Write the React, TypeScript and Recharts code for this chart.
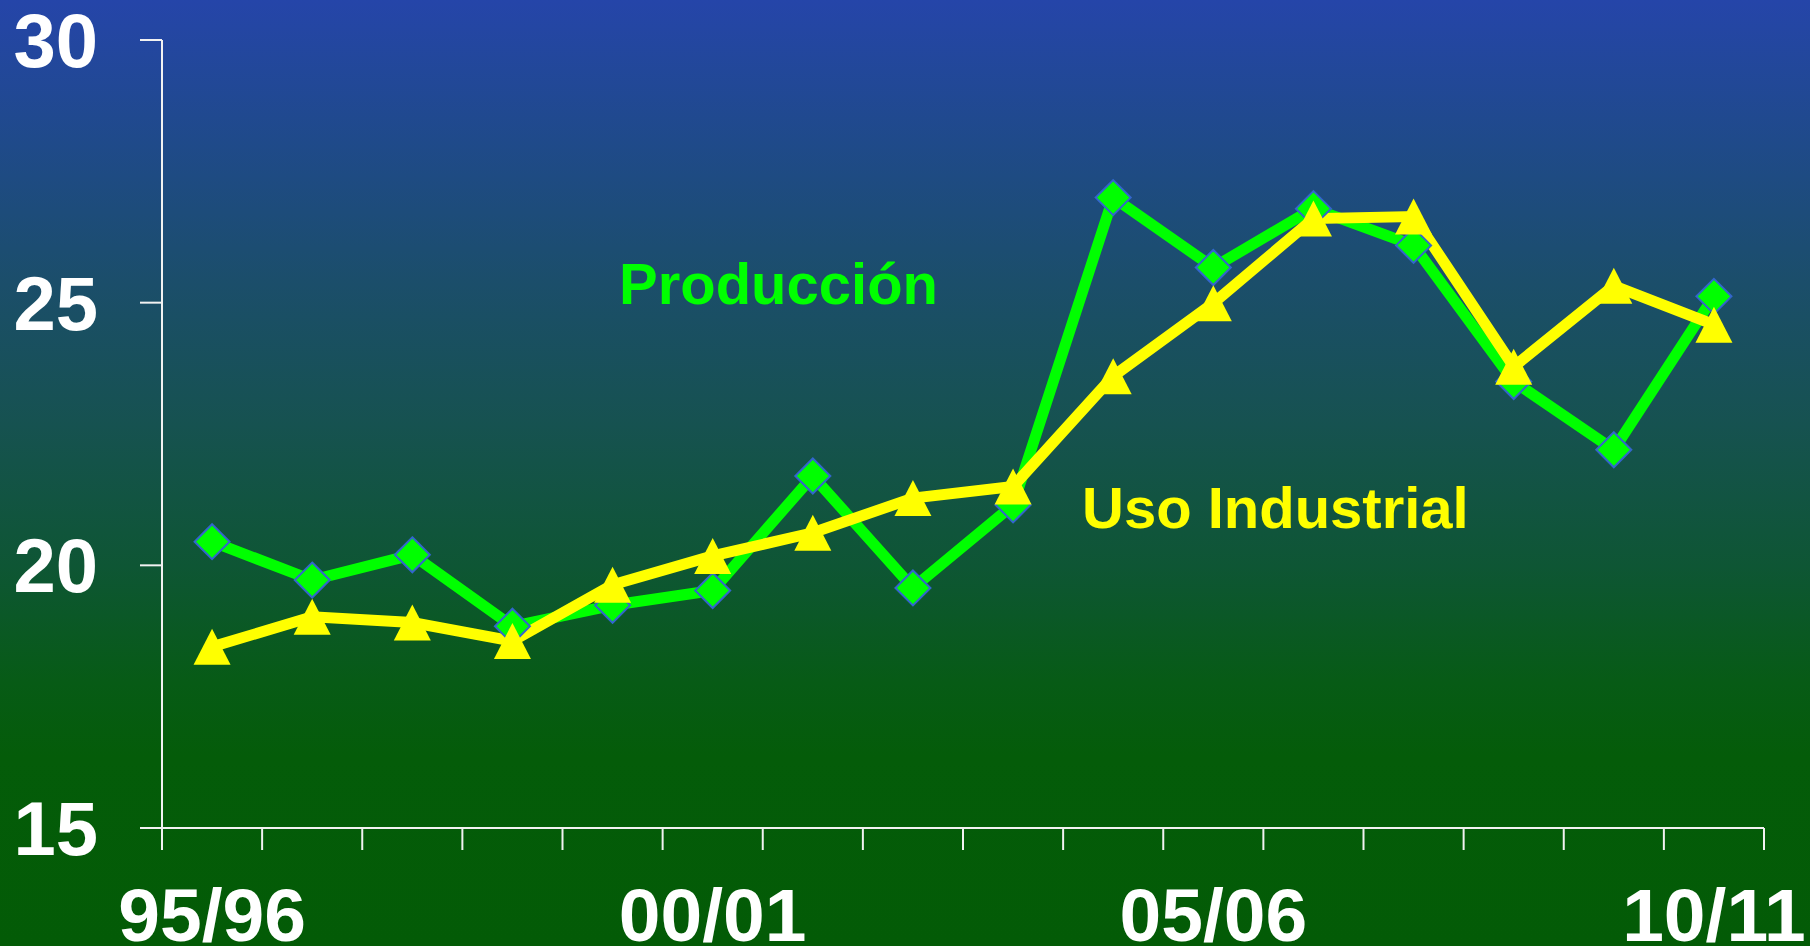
import React from 'react';
import { LineChart, Line, XAxis, YAxis } from 'recharts';

// campañas 95/96 ... 10/11
const seasons = [
  '95/96', '96/97', '97/98', '98/99', '99/00', '00/01', '01/02', '02/03',
  '03/04', '04/05', '05/06', '06/07', '07/08', '08/09', '09/10', '10/11',
];
const produccion = [
  20.45, 19.72, 20.2, 18.84, 19.24, 19.52, 21.7, 19.57,
  21.15, 27.0, 25.67, 26.79, 26.09, 23.5, 22.2, 25.12,
];
const usoIndustrial = [
  18.45, 19.02, 18.91, 18.56, 19.63, 20.18, 20.62, 21.28,
  21.5, 23.6, 24.99, 26.6, 26.64, 23.78, 25.32, 24.58,
];
const yTicks = [15, 20, 25, 30];
const labelledSeasons = ['95/96', '00/01', '05/06', '10/11'];

const data = seasons.map((s, i) => ({
  idx: i,
  season: s,
  prod: produccion[i],
  uso: usoIndustrial[i],
}));

const boundaryTicks = seasons.map((_, i) => i - 0.5).concat(seasons.length - 0.5);
const labelTicks = seasons
  .map((s, i) => (labelledSeasons.includes(s) ? i : -1))
  .filter((i) => i >= 0);
const xTicks = [...boundaryTicks, ...labelTicks].sort((a, b) => a - b);

const FONT = '"Liberation Sans", Arial, Helvetica, sans-serif';
const TICK_SIZE = 22;
const X_TICK_MARGIN = 38;
const AXIS_COLOR = '#f2f2f2';

function XTick(props: any) {
  const { x, y, payload } = props;
  const v = payload.value as number;
  if (!Number.isInteger(v)) {
    const top = y - X_TICK_MARGIN - TICK_SIZE;
    return (
      <line x1={x} x2={x} y1={top} y2={top + TICK_SIZE} stroke={AXIS_COLOR} strokeWidth={2} />
    );
  }
  return (
    <text
      x={x}
      y={y}
      dy="0.71em"
      textAnchor="middle"
      fill="#ffffff"
      fontSize={75}
      fontWeight="bold"
      fontFamily={FONT}
    >
      {seasons[v]}
    </text>
  );
}

function Diamond(props: any) {
  const { cx, cy } = props;
  if (cx == null || cy == null) return null;
  const r = 17.5;
  return (
    <polygon
      points={`${cx},${cy - r} ${cx + r},${cy} ${cx},${cy + r} ${cx - r},${cy}`}
      fill="#00ff00"
      stroke="#3366cc"
      strokeWidth={2}
    />
  );
}

function Triangle(props: any) {
  const { cx, cy } = props;
  if (cx == null || cy == null) return null;
  const h = 18;
  const w = 18.5;
  return (
    <polygon
      points={`${cx},${cy - h} ${cx + w},${cy + h} ${cx - w},${cy + h}`}
      fill="#ffff00"
    />
  );
}

export default function App() {
  return (
    <div
      style={{
        position: 'absolute',
        left: 0,
        top: 0,
        width: 1810,
        height: 946,
        background:
          'linear-gradient(to bottom, #2545a9 0%, #1f4a8a 15%, #1b4e6a 30%, #165250 45%, #0e5634 60%, #075b16 72%, #045c09 80%, #035b06 100%)',
      }}
    >
      <LineChart
        width={1810}
        height={946}
        data={data}
        margin={{ top: 40, right: 46, left: 0, bottom: 0 }}
      >
        <XAxis
          dataKey="idx"
          type="number"
          domain={[-0.5, seasons.length - 0.5]}
          ticks={xTicks}
          interval={0}
          height={118}
          tickLine={false}
          tickSize={TICK_SIZE}
          tickMargin={X_TICK_MARGIN}
          axisLine={{ stroke: AXIS_COLOR, strokeWidth: 2 }}
          tick={<XTick />}
        />
        <YAxis
          type="number"
          domain={[15, 30]}
          ticks={yTicks}
          interval={0}
          width={162}
          tickSize={TICK_SIZE}
          tickMargin={42}
          axisLine={{ stroke: AXIS_COLOR, strokeWidth: 2 }}
          tickLine={{ stroke: AXIS_COLOR, strokeWidth: 2 }}
          tick={{ fill: '#ffffff', fontSize: 76, fontWeight: 'bold', fontFamily: FONT }}
        />
        <Line
          type="linear"
          dataKey="prod"
          stroke="#00ff00"
          strokeWidth={11}
          dot={<Diamond />}
          activeDot={false}
          isAnimationActive={false}
        />
        <Line
          type="linear"
          dataKey="uso"
          stroke="#ffff00"
          strokeWidth={11}
          dot={<Triangle />}
          activeDot={false}
          isAnimationActive={false}
        />
        <text x={619} y={304} fill="#00ff00" fontSize={58} fontWeight="bold" fontFamily={FONT}>
          Producción
        </text>
        <text x={1082} y={528} fill="#ffff00" fontSize={58} fontWeight="bold" fontFamily={FONT}>
          Uso Industrial
        </text>
      </LineChart>
    </div>
  );
}
